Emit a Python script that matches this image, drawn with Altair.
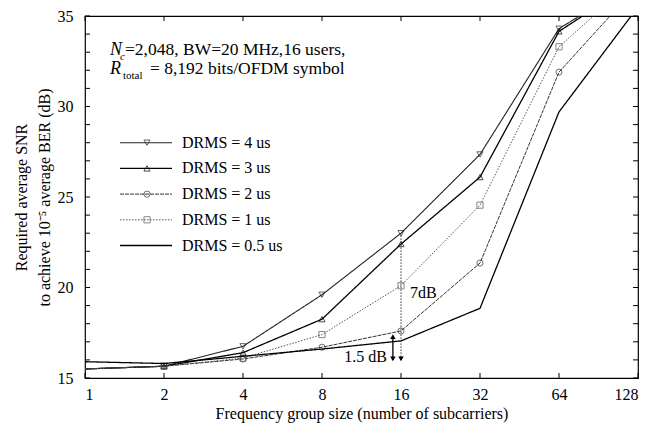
import altair as alt
import pandas as pd

# ---- data ----
group_size = [1, 2, 4, 8, 16, 32, 64, 128]
snr_4us = [15.5, 15.65, 16.75, 19.6, 23.0, 27.35, 34.3, 37.0]
snr_3us = [15.5, 15.65, 16.4, 18.25, 22.4, 26.1, 34.15, 37.0]
snr_2us = [15.5, 15.65, 16.05, 16.7, 17.6, 21.35, 31.9, 36.7]
snr_1us = [15.5, 15.65, 16.1, 17.4, 20.1, 24.55, 33.3, 37.2]
snr_05us = [15.9, 15.8, 16.2, 16.6, 17.05, 18.85, 29.7, 35.5]
series_names = ["DRMS = 4 us", "DRMS = 3 us", "DRMS = 2 us", "DRMS = 1 us", "DRMS = 0.5 us"]
series_values = [snr_4us, snr_3us, snr_2us, snr_1us, snr_05us]
x_tick_labels = [1, 2, 4, 8, 16, 32, 64, 128]
y_tick_labels = [15, 20, 25, 30, 35]
y_minor_ticks = list(range(15, 36))

FONT = "Liberation Serif"
W, H = 553, 362

styles = {
    "DRMS = 4 us": dict(color="#222222", width=1.1, dash=[1, 0], shape="triangle-down"),
    "DRMS = 3 us": dict(color="#000000", width=1.3, dash=[1, 0], shape="triangle-up"),
    "DRMS = 2 us": dict(color="#333333", width=1.0, dash=[4, 1], shape="circle"),
    "DRMS = 1 us": dict(color="#555555", width=1.0, dash=[1.5, 1.5], shape="square"),
    "DRMS = 0.5 us": dict(color="#000000", width=1.3, dash=[1, 0], shape=None),
}

rows = []
for name, vals in zip(series_names, series_values):
    for g, v in zip(group_size, vals):
        rows.append({"series": name, "g": g, "snr": v})
df = pd.DataFrame(rows)

xscale = alt.Scale(type="log", base=2, domain=[1, 128], nice=False)
yscale = alt.Scale(domain=[15, 35], nice=False, zero=False)

xaxis = alt.Axis(values=x_tick_labels, format="d", ticks=False, tickSize=0, domain=False, grid=False,
                 labelFont=FONT, labelFontSize=16, labelColor="black", labelPadding=8,
                 title="Frequency group size  (number of subcarriers)", titleFont=FONT,
                 titleFontSize=16, titleFontWeight="normal", titleColor="black", titlePadding=3)
yaxis = alt.Axis(values=y_tick_labels, ticks=False, tickSize=0, domain=False, grid=False,
                 labelFont=FONT, labelFontSize=16, labelColor="black", labelPadding=12,
                 title=["Required average SNR", "to achieve 10\u207b\u2075 average BER (dB)"],
                 titleFont=FONT, titleFontSize=16, titleFontWeight="normal", titleColor="black",
                 titlePadding=5, titleLineHeight=23)


def X(field):
    return alt.X(field, scale=xscale, axis=xaxis)


def Y(field):
    return alt.Y(field, scale=yscale, axis=yaxis)


layers = []
for name in series_names:
    st = styles[name]
    sub = df[df.series == name]
    layers.append(alt.Chart(sub).mark_line(color=st["color"], strokeWidth=st["width"],
                                           strokeDash=st["dash"], clip=True).encode(
        x=X("g:Q"), y=Y("snr:Q")))
    if st["shape"]:
        layers.append(alt.Chart(sub[(sub.g >= 2) & (sub.g <= 64)]).mark_point(
            shape=st["shape"], filled=False, size=38, color=st["color"], strokeWidth=1, clip=True
        ).encode(x=X("g:Q"), y=Y("snr:Q")))

# ---- inward ticks ----
ytk = pd.DataFrame({"v": y_minor_ticks})
xtk = pd.DataFrame({"g": x_tick_labels})
tick_layers = [
    alt.Chart(ytk).mark_rule(color="black", strokeWidth=1).encode(
        y=Y("v:Q"), x=alt.value(0), x2=alt.value(5)),
    alt.Chart(ytk).mark_rule(color="black", strokeWidth=1).encode(
        y=Y("v:Q"), x=alt.value(W - 5), x2=alt.value(W)),
    alt.Chart(xtk).mark_rule(color="black", strokeWidth=1).encode(
        x=X("g:Q"), y=alt.value(0), y2=alt.value(5)),
    alt.Chart(xtk).mark_rule(color="black", strokeWidth=1).encode(
        x=X("g:Q"), y=alt.value(H - 5), y2=alt.value(H)),
]

# ---- custom legend inside plot ----
leg_top, leg_step = 28.0, 1.42
leg_x0, leg_x1, leg_xm, leg_xt = 1.36, 2.145, 1.723, 2.342
leg_layers = []
for i, name in enumerate(series_names):
    st = styles[name]
    ld = pd.DataFrame({"x0": [leg_x0], "x1": [leg_x1], "xm": [leg_xm], "xt": [leg_xt],
                       "y": [leg_top - i * leg_step], "label": [name]})
    leg_layers.append(alt.Chart(ld).mark_rule(color=st["color"], strokeWidth=st["width"],
                                              strokeDash=st["dash"]).encode(
        x=X("x0:Q"), x2="x1:Q", y=Y("y:Q")))
    if st["shape"]:
        leg_layers.append(alt.Chart(ld).mark_point(shape=st["shape"], filled=False, size=38,
                                                   color=st["color"], strokeWidth=1).encode(
            x=X("xm:Q"), y=Y("y:Q")))
    leg_layers.append(alt.Chart(ld).mark_text(align="left", baseline="middle", font=FONT,
                                              fontSize=16, color="black").encode(
        x=X("xt:Q"), y=Y("y:Q"), text="label:N"))


# ---- annotations ----
def txt(x, y, s, size=15, style="normal", align="left", dx=0, dy=0):
    d = pd.DataFrame({"x": [x], "y": [y], "t": [s]})
    return alt.Chart(d).mark_text(align=align, baseline="middle", font=FONT, fontSize=size,
                                  fontStyle=style, color="black", dx=dx, dy=dy).encode(
        x=X("x:Q"), y=Y("y:Q"), text="t:N")


ann_x, ann_y1, ann_y2 = 1.245, 33.1, 32.05
ann_layers = [
    txt(ann_x, ann_y1, "N", 18, "italic"),
    txt(ann_x, ann_y1, "c", 11, "italic", dx=10, dy=7),
    txt(ann_x, ann_y1, "=2,048, BW=20 MHz,16 users,", 17.5, dx=15),
    txt(ann_x, ann_y2, "R", 18, "italic"),
    txt(ann_x, ann_y2, "total", 11, dx=13, dy=7),
    txt(ann_x, ann_y2, "= 8,192 bits/OFDM symbol", 17.5, dx=40),
    txt(17.3, 19.69, "7dB", 16),
    txt(14.15, 16.15, "1.5 dB", 16, align="right"),
]

# arrows
arr_7 = pd.DataFrame({"x": [16], "y0": [16.0], "y1": [22.9]})
arr_15 = pd.DataFrame({"x": [14.9], "y0": [16.0], "y1": [17.3]})
heads = pd.DataFrame({"x": [16, 14.9, 14.9], "y": [16.05, 16.05, 17.28],
                      "s": ["triangle-down", "triangle-down", "triangle-up"]})
arrow_layers = [
    alt.Chart(arr_7).mark_rule(color="#333333", strokeWidth=1, strokeDash=[1.5, 1.5]).encode(
        x=X("x:Q"), y=Y("y0:Q"), y2="y1:Q"),
    alt.Chart(arr_15).mark_rule(color="black", strokeWidth=1.3).encode(
        x=X("x:Q"), y=Y("y0:Q"), y2="y1:Q"),
    alt.Chart(heads).mark_point(filled=True, size=30, color="black", opacity=1).encode(
        x=X("x:Q"), y=Y("y:Q"), shape=alt.Shape("s:N", scale=None)),
]

chart = alt.layer(*(layers + tick_layers + leg_layers + ann_layers + arrow_layers)).properties(
    width=W, height=H,
    autosize=alt.AutoSizeParams(type="none"),
    padding={"left": 77, "top": 8, "right": 25, "bottom": 46},
    background="white",
).configure_view(stroke="black", strokeWidth=1.2)

chart.save("out.html", embed_options={"renderer": "svg", "actions": False})
